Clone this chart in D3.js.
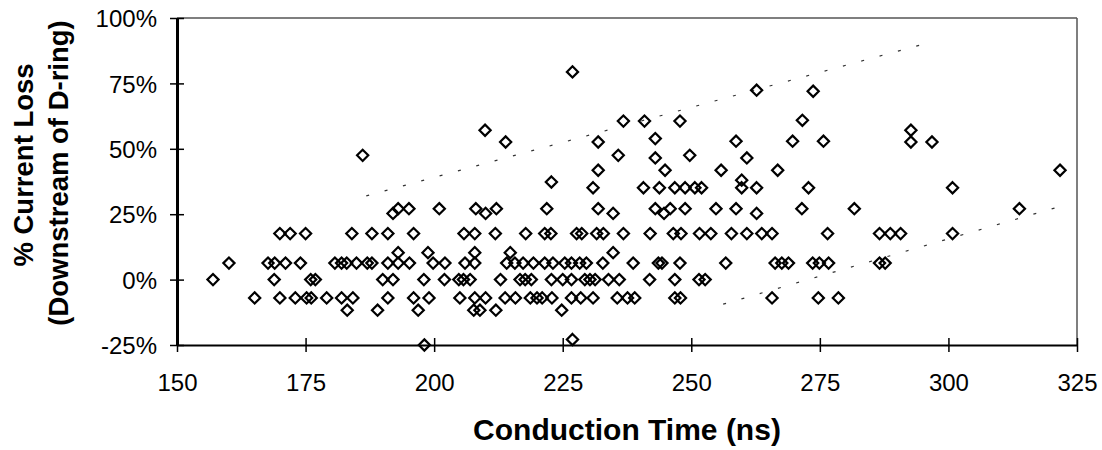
<!DOCTYPE html>
<html><head><meta charset="utf-8">
<script src="https://cdn.jsdelivr.net/npm/d3@7"></script>
<style>
html,body{margin:0;padding:0;background:#fff;}
svg{display:block;}
text{font-family:"Liberation Sans",Arial,Helvetica,sans-serif;fill:#000;}
</style></head><body>
<svg id="chart" width="1102" height="450"></svg>
<script>
// ---- data ----
const xTicks = [150, 175, 200, 225, 250, 275, 300, 325];
const yTicks = [-25, 0, 25, 50, 75, 100];
const xTitle = "Conduction Time (ns)";
const yTitleLines = ["% Current Loss", "(Downstream of D-ring)"];

// current loss levels (%) and the conduction times (ns) observed at each level
const lossLevels = [-25.0, -22.9, -11.7, -7.0, 0, 6.3, 10.3, 17.6, 25.3, 27.1, 35.1,
  37.3, 38.0, 41.8, 46.5, 47.5, 52.6, 52.9, 53.9, 57.1, 60.6, 60.9, 72.0, 72.4, 79.4];
const timesByLevel = [
  [198.1],
  [226.9],
  [183.1, 189.0, 196.9, 207.7, 208.9, 212.0, 224.8],
  [165.1, 170.0, 173.0, 175.2, 176.1, 179.1, 182.0, 184.2, 191.0, 196.0, 199.0, 205.0,
   207.9, 210.0, 213.8, 215.8, 218.7, 220.0, 221.0, 222.9, 226.7, 228.5, 230.9, 235.6,
   237.6, 239.0, 246.8, 247.9, 265.7, 274.7, 278.6],
  [157.0, 168.9, 176.0, 176.9, 190.0, 192.0, 198.0, 202.0, 204.8, 205.7, 207.0, 212.9,
   216.7, 217.7, 218.9, 222.8, 225.0, 226.7, 229.3, 230.3, 231.3, 233.9, 236.0, 241.9,
   246.8, 251.5, 252.7],
  [160.1, 167.7, 169.0, 171.1, 174.0, 180.7, 182.0, 183.0, 184.9, 187.0, 187.9, 191.0,
   193.0, 195.2, 199.8, 202.1, 206.0, 207.9, 214.1, 215.7, 217.3, 219.3, 221.5, 223.1,
   225.4, 226.7, 228.3, 229.6, 232.8, 238.7, 243.6, 244.3, 247.8, 256.7, 266.3, 267.6,
   268.9, 273.6, 274.9, 276.7, 286.6, 287.7],
  [193.0, 198.8, 207.9, 214.8, 234.8],
  [170.0, 172.0, 175.0, 184.0, 187.9, 191.0, 196.0, 205.8, 207.9, 211.9, 217.8, 221.5,
   222.7, 227.7, 228.7, 231.6, 232.9, 236.8, 242.0, 246.5, 248.0, 251.6, 253.8, 257.8,
   260.8, 263.7, 265.7, 276.5, 286.6, 288.7, 290.7, 300.8],
  [192.0, 210.0, 234.8, 244.7, 262.7],
  [193.0, 195.1, 201.0, 208.1, 212.1, 221.9, 231.9, 243.0, 245.9, 248.8, 254.8, 258.7,
   271.5, 281.7, 313.8],
  [230.9, 240.7, 243.8, 246.8, 248.8, 250.7, 252.0, 259.8, 262.7, 272.8, 300.8],
  [222.8],
  [259.8],
  [231.9, 244.9, 255.8, 266.8, 321.7],
  [243.0, 260.8],
  [186.1, 235.8, 249.7],
  [213.9, 231.9, 292.7, 296.8],
  [258.7, 269.7, 275.7],
  [243.0],
  [209.9, 292.7],
  [236.8, 240.9, 247.8],
  [271.6],
  [273.7],
  [262.7],
  [226.9]
];

// dotted envelope lines: [time, loss] end points
const upperEnvelope = [[186.8, 32.0], [296.8, 90.9]];
const lowerEnvelope = [[256.2, -9.4], [322.3, 28.3]];

// ---- drawing ----
const svg = d3.select("#chart");
const L = 177, R = 1077, T = 18, B = 345;
const x = d3.scaleLinear().domain([150, 325]).range([L, R]);
const y = d3.scaleLinear().domain([-25, 100]).range([B, T]);

const points = [];
lossLevels.forEach((lv, i) => timesByLevel[i].forEach(t => points.push([t, lv])));

// frame (top & right, thin grey)
svg.append("line").attr("x1", L).attr("x2", R).attr("y1", T).attr("y2", T)
  .attr("stroke", "#555").attr("stroke-width", 1.5);
svg.append("line").attr("x1", R).attr("x2", R).attr("y1", T).attr("y2", B)
  .attr("stroke", "#555").attr("stroke-width", 1.5);

// axes
const xAxis = d3.axisBottom(x).tickValues(xTicks).tickSize(0).tickPadding(0).tickFormat(d3.format("d"));
const gx = svg.append("g").attr("transform", `translate(0,${B})`).call(xAxis);
gx.select(".domain").attr("stroke", "#000").attr("stroke-width", 2);
gx.selectAll(".tick line").remove();
gx.selectAll(".tick").append("line").attr("y1", -7).attr("y2", 7).attr("stroke", "#000").attr("stroke-width", 1.5);
gx.selectAll(".tick text").attr("y", 46).attr("dy", 0).attr("font-size", 24).attr("fill", "#000");

const yAxis = d3.axisLeft(y).tickValues(yTicks).tickSize(0).tickPadding(0).tickFormat(d => d + "%");
const gy = svg.append("g").attr("transform", `translate(${L},0)`).call(yAxis);
gy.select(".domain").attr("stroke", "#000").attr("stroke-width", 3);
gy.selectAll(".tick line").remove();
gy.selectAll(".tick").append("line").attr("x1", -7).attr("x2", 7).attr("stroke", "#000").attr("stroke-width", 1.5);
gy.selectAll(".tick text").attr("x", -20).attr("dy", "0.36em").attr("font-size", 24)
  .attr("text-anchor", "end").attr("fill", "#000");
gx.attr("font-family", null); gy.attr("font-family", null);

// envelopes
const line = d3.line().x(d => x(d[0])).y(d => y(d[1]));
[upperEnvelope, lowerEnvelope].forEach(env => {
  svg.append("path").attr("d", line(env)).attr("fill", "none")
    .attr("stroke", "#333").attr("stroke-width", 1.2).attr("stroke-dasharray", "3,16");
});

// diamonds
const s = 5.6;
svg.append("g").selectAll("path").data(points).join("path")
  .attr("transform", d => `translate(${x(d[0])},${y(d[1])})`)
  .attr("d", `M0,${-s}L${s},0L0,${s}L${-s},0Z`)
  .attr("fill", "none").attr("stroke", "#000").attr("stroke-width", 2.2)
  .attr("stroke-linejoin", "miter");

// titles
svg.append("text").attr("x", (L + R) / 2).attr("y", 440).attr("text-anchor", "middle")
  .attr("font-size", 30).attr("font-weight", "bold").text(xTitle);
svg.append("text").attr("transform", `translate(33,165) rotate(-90)`)
  .attr("text-anchor", "middle").attr("font-size", 27.5).attr("font-weight", "bold")
  .text(yTitleLines[0]);
svg.append("text").attr("transform", `translate(68,173) rotate(-90)`)
  .attr("text-anchor", "middle").attr("font-size", 27.5).attr("font-weight", "bold")
  .text(yTitleLines[1]);
</script></body></html>
